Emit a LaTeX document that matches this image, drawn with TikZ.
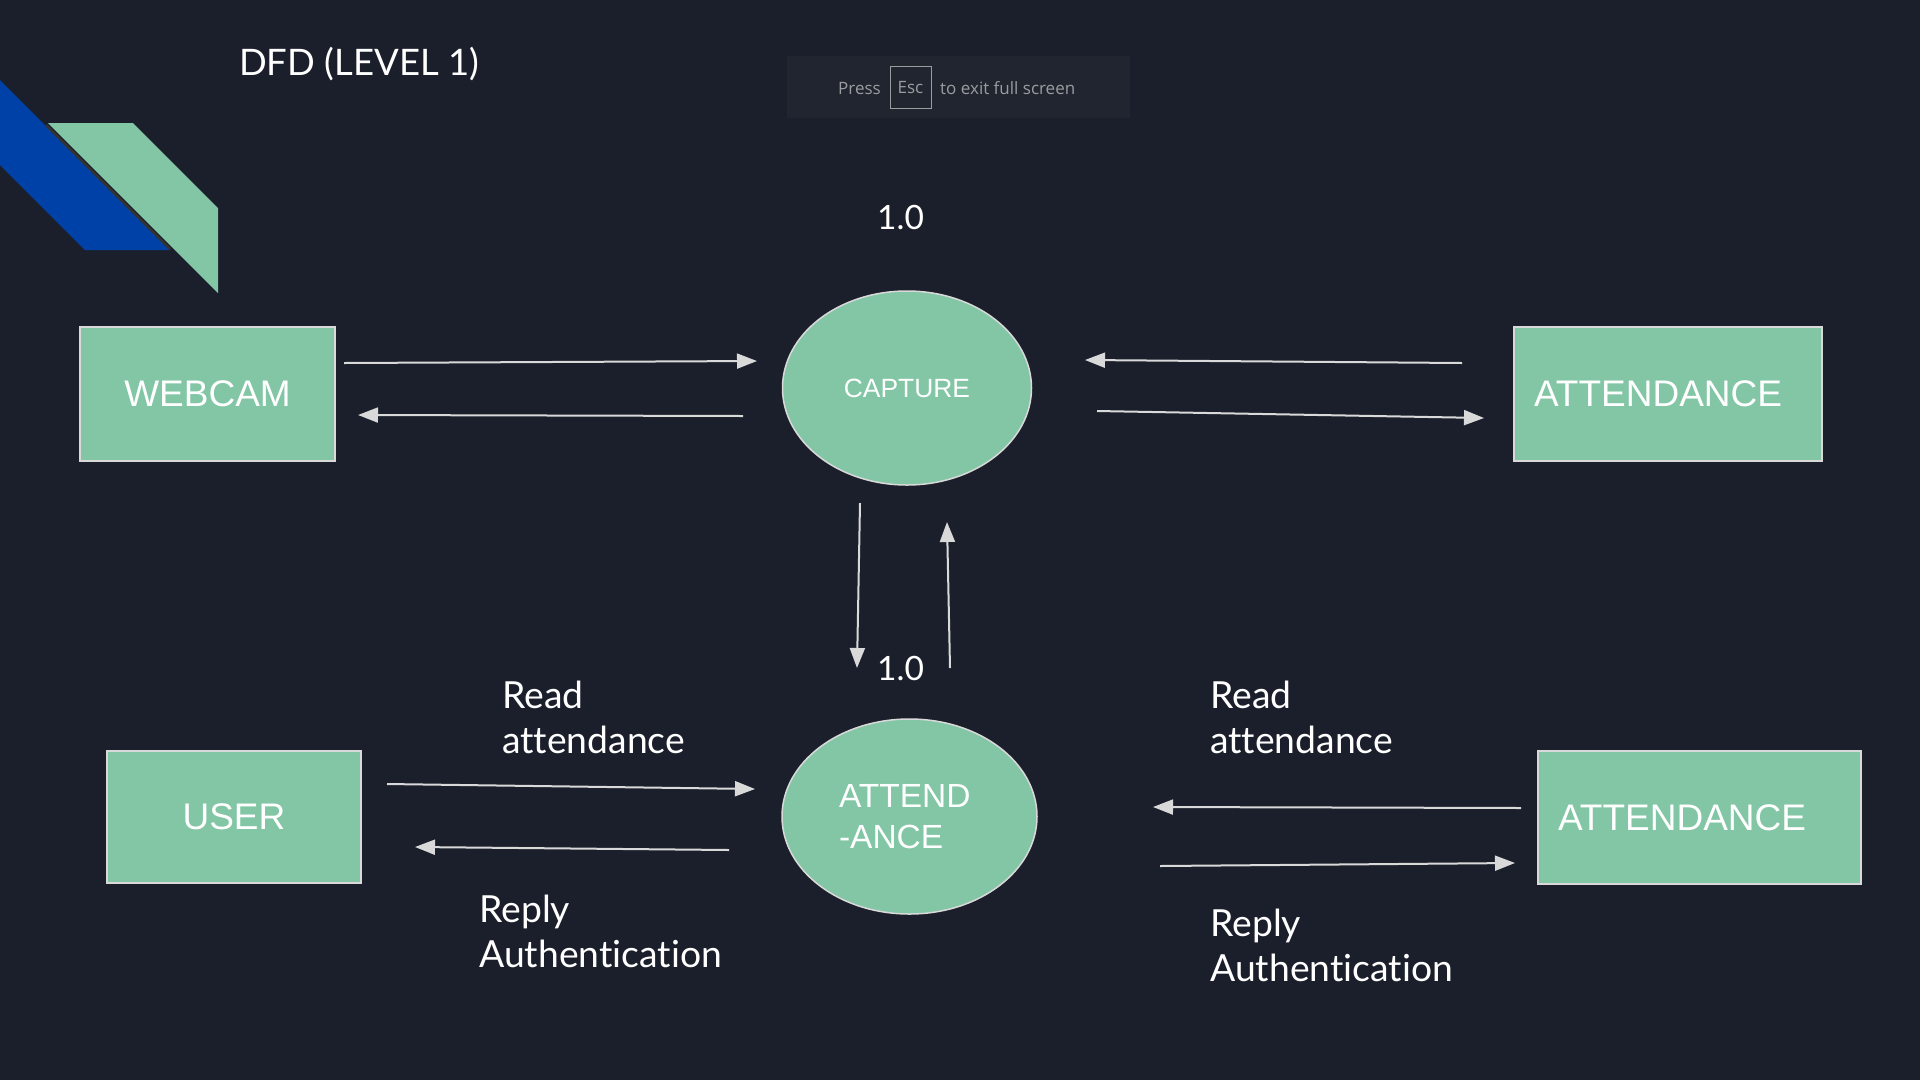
\documentclass[tikz,border=0pt]{standalone}
\usepackage{fontspec}
\setmainfont{Lato}[Ligatures=NoCommon]
\newfontfamily\arialfont{Liberation Sans}
\newfontfamily\uifont{Open Sans}
\usetikzlibrary{arrows.meta,shapes.geometric}
\definecolor{slidebg}{HTML}{1B1F2B}
\definecolor{dfdgreen}{HTML}{82C6A5}
\definecolor{dfdblue}{HTML}{0041A8}
\definecolor{flowgray}{HTML}{D9D9D9}
\definecolor{escbg}{HTML}{21252F}
\definecolor{esctext}{HTML}{9A9CA0}
\tikzset{
	entity/.style={draw=flowgray, line width=2pt, fill=dfdgreen, text=white, inner sep=0pt, font=\arialfont\fontsize{37}{44}\selectfont},
	entityleft/.style={entity, align=left, inner xsep=20pt},
	process/.style={ellipse, draw=flowgray, line width=1.5pt, fill=dfdgreen, text=white, inner sep=0pt},
	flow/.style={draw=flowgray, line width=2pt, -{Triangle[length=20pt,width=15pt]}},
	flowlabel/.style={text=white, anchor=base west, inner sep=0pt, align=left, font=\fontsize{37.3}{45}\selectfont},
}
\begin{document}
\begin{tikzpicture}[x=1pt, y=-1pt]
		%%%%% START %%%%%
		
		\fill[slidebg] (0, 0) rectangle (1920, 1080);
		\useasboundingbox (0, 0) rectangle (1920, 1080);
		
		\fill[dfdblue] (0, 80) -- (170, 250) -- (85, 250) -- (0, 165) -- cycle;
		\draw[line width=2.5pt, color=black!80] (46, 125) -- (170, 249);
		\fill[dfdgreen] (48, 123) -- (133, 123) -- (218, 208) -- (218, 293) -- cycle;
		
		\node[anchor=base west, inner sep=0pt, text=white, font=\fontsize{36.5}{44}\selectfont] (title) at (239, 75) {DFD (LEVEL 1)};
		
		\fill[escbg] (787, 56) rectangle (1130, 118);
		\node[anchor=base west, inner sep=0pt, text=esctext, font=\uifont\fontsize{17}{20}\selectfont] (press) at (838, 94) {Press};
		\node[draw=esctext, line width=1pt, minimum width=41pt, minimum height=42pt, inner sep=0pt, text depth=0pt, text height=12pt, text=esctext, font=\uifont\fontsize{17}{20}\selectfont] (esc) at (910.5, 87) {Esc};
		\node[anchor=base west, inner sep=0pt, text=esctext, font=\uifont\fontsize{17}{20}\selectfont] (exit) at (940, 94) {to exit full screen};
		
		\node[entity, minimum width=255pt, minimum height=134pt] (webcam) at (207.5, 394) {WEBCAM};
		\node[process, minimum width=249pt, minimum height=194pt, font=\arialfont\fontsize{26.4}{30}\selectfont] (capture) at (907, 388) {CAPTURE};
		\node[entityleft, text width=268pt, minimum height=134pt] (attendtop) at (1668, 394) {ATTENDANCE};
		
		\node[anchor=base west, inner sep=0pt, text=white, font=\fontsize{33.5}{40}\selectfont] (numtop) at (877, 229) {1.0};
		\node[anchor=base west, inner sep=0pt, text=white, font=\fontsize{33.5}{40}\selectfont] (numlow) at (877, 680) {1.0};
		
		\node[entity, minimum width=254pt, minimum height=132pt] (user) at (234, 817) {USER};
		\node[process, minimum width=255pt, minimum height=195pt, align=left, text width=141pt, font=\arialfont\fontsize{33.5}{41}\selectfont] (attendance) at (909.5, 816.5) {ATTEND\\-ANCE};
		\node[entityleft, text width=283pt, minimum height=133pt] (attendlow) at (1699.5, 817.5) {ATTENDANCE};
		
		\coordinate (wc1) at (344, 363);  \coordinate (wc2) at (757, 361);
		\coordinate (wc3) at (743, 416);  \coordinate (wc4) at (358, 415);
		\draw[flow] (wc1) -- (wc2);
		\draw[flow] (wc3) -- (wc4);
		
		\coordinate (at1) at (1462, 363); \coordinate (at2) at (1085, 360);
		\coordinate (at3) at (1097, 411); \coordinate (at4) at (1484, 418);
		\draw[flow] (at1) -- (at2);
		\draw[flow] (at3) -- (at4);
		
		\coordinate (cp1) at (860, 503);  \coordinate (cp2) at (857, 668);
		\coordinate (cp3) at (950, 668);  \coordinate (cp4) at (947, 522);
		\draw[flow] (cp1) -- (cp2);
		\draw[flow] (cp3) -- (cp4);
		
		\coordinate (us1) at (387, 784);  \coordinate (us2) at (755, 789);
		\coordinate (us3) at (729, 850);  \coordinate (us4) at (415, 847);
		\draw[flow] (us1) -- (us2);
		\draw[flow] (us3) -- (us4);
		
		\coordinate (al1) at (1521, 808); \coordinate (al2) at (1153, 807);
		\coordinate (al3) at (1160, 866); \coordinate (al4) at (1515, 863);
		\draw[flow] (al1) -- (al2);
		\draw[flow] (al3) -- (al4);
		
		\node[flowlabel] (readleft) at (502, 753) {Read\\attendance};
		\node[flowlabel] (replyleft) at (479, 967) {Reply\\Authentication};
		\node[flowlabel] (readright) at (1210, 753) {Read\\attendance};
		\node[flowlabel] (replyright) at (1210, 981) {Reply\\Authentication};
		
		%%%%% END %%%%%
	\end{tikzpicture}
\end{document}
